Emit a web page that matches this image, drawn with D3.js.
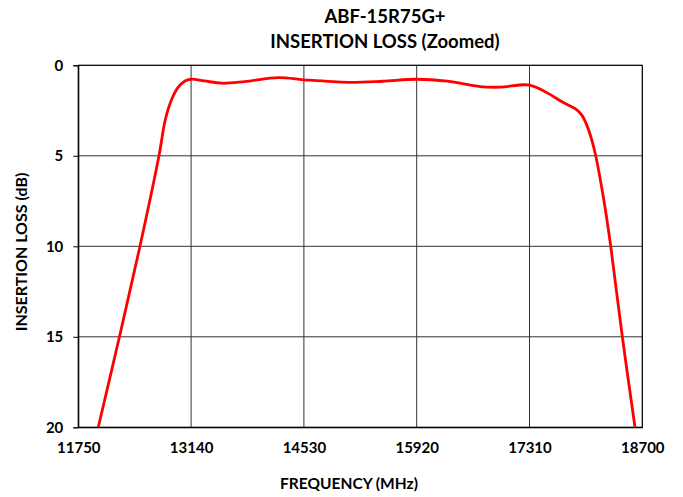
<!DOCTYPE html>
<html>
<head>
<meta charset="utf-8">
<script src="https://cdn.jsdelivr.net/npm/d3@7"></script>
<style>
html,body{margin:0;padding:0;background:#fff;}
svg text{font-family:Lato,"Open Sans",sans-serif;font-weight:bold;fill:#000;}
</style>
</head>
<body>
<svg id="chart" width="683" height="497"></svg>
<script>
const titleLines = ["ABF-15R75G+", "INSERTION LOSS (Zoomed)"];
const xLabel = "FREQUENCY (MHz)";
const yLabel = "INSERTION LOSS (dB)";
const xTicks = [11750, 13140, 14530, 15920, 17310, 18700];
const yTicks = [0, 5, 10, 15, 20];
const freq = [11996, 12257, 12510, 12744, 12820, 12895, 12975, 13060, 13140, 13300, 13520, 13800, 14219, 14530, 15078, 15500, 15920, 16300, 16700, 16947, 17310, 17522, 17727, 17892, 17953, 18015, 18077, 18126, 18228, 18311, 18454, 18610];
const loss = [20, 15, 10, 5, 3.05, 1.95, 1.25, 0.88, 0.77, 0.86, 0.99, 0.9, 0.68, 0.8, 0.94, 0.88, 0.77, 0.88, 1.18, 1.21, 1.09, 1.51, 2.06, 2.46, 2.74, 3.29, 4.12, 5, 7.5, 10, 15, 20];

const svg = d3.select("#chart");
const L = 78.3, R = 642.3, T = 65.3, B = 427.3;
const x = d3.scaleLinear().domain([11750, 18700]).range([L, R]);
const y = d3.scaleLinear().domain([0, 20]).range([T, B]);

// gridlines
svg.append("g").selectAll("line").data(yTicks).join("line")
  .attr("x1", L).attr("x2", R).attr("y1", d => y(d)).attr("y2", d => y(d))
  .attr("stroke", "#333").attr("stroke-width", 1);
svg.append("g").selectAll("line").data(xTicks).join("line")
  .attr("y1", T).attr("y2", B).attr("x1", d => x(d)).attr("x2", d => x(d))
  .attr("stroke", "#333").attr("stroke-width", 1);

// border
svg.append("rect").attr("x", L).attr("y", T).attr("width", R - L).attr("height", B - T)
  .attr("fill", "none").attr("stroke", "#000").attr("stroke-width", 1);

// left axis
const yAxis = d3.axisLeft(y).tickValues(yTicks).tickSize(5).tickPadding(10);
const gy = svg.append("g").attr("transform", `translate(${L},0)`).call(yAxis);
gy.select(".domain").attr("stroke", "#000");
gy.selectAll(".tick line").attr("stroke", "#000");
gy.selectAll("text").style("font-size", "15px").style("font-family", "Lato").style("font-weight", "bold").attr("fill", "#000");

// bottom axis
const xAxis = d3.axisBottom(x).tickValues(xTicks).tickSize(0).tickPadding(15).tickFormat(d3.format("d"));
const gx = svg.append("g").attr("transform", `translate(0,${B})`).call(xAxis);
gx.select(".domain").attr("stroke", "#000");
gx.selectAll("text").style("font-size", "15px").style("font-family", "Lato").style("font-weight", "bold").attr("fill", "#000");

// line
const line = d3.line().x((d, i) => x(freq[i])).y(d => y(d)).curve(d3.curveCatmullRom.alpha(0.5));
svg.append("path").datum(loss).attr("d", line)
  .attr("fill", "none").attr("stroke", "#ff0000").attr("stroke-width", 2.8);

// titles
svg.append("text").attr("x", 385).attr("y", 23).attr("text-anchor", "middle")
  .style("font-size", "18.5px").text(titleLines[0]);
svg.append("text").attr("x", 385).attr("y", 48).attr("text-anchor", "middle")
  .style("font-size", "18.5px").text(titleLines[1]);
svg.append("text").attr("x", 349).attr("y", 489).attr("text-anchor", "middle")
  .style("font-size", "15.5px").text(xLabel);
svg.append("text").attr("transform", "translate(27,252) rotate(-90)").attr("text-anchor", "middle")
  .style("font-size", "16px").text(yLabel);
</script>
</body>
</html>
